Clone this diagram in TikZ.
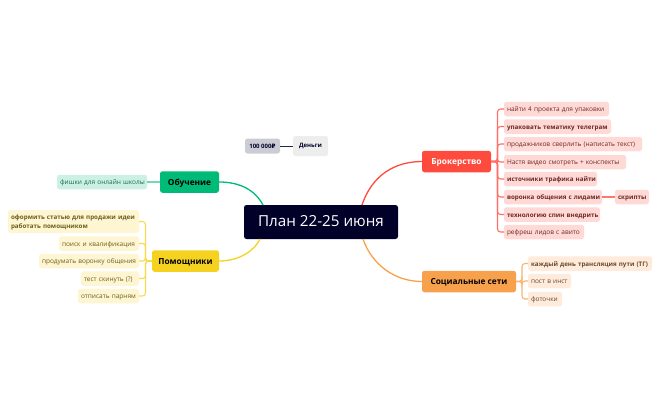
\documentclass[tikz,border=0pt]{standalone}
\usepackage{fontspec}
\setmainfont{Open Sans}
\newfontfamily\rubfont{DejaVu Sans}
\definecolor{navy}{HTML}{000028}
\definecolor{cred}{HTML}{FF4B3E}
\definecolor{cora}{HTML}{F8A14C}
\definecolor{cgre}{HTML}{00BA78}
\definecolor{cyel}{HTML}{F5D21F}
\definecolor{lred}{HTML}{FFD9D6}
\definecolor{lora}{HTML}{FEEBDB}
\definecolor{lgre}{HTML}{CCF1E4}
\definecolor{lyel}{HTML}{FEF5D2}
\definecolor{tred}{HTML}{6E2A26}
\definecolor{tora}{HTML}{6B4A2A}
\definecolor{tgre}{HTML}{1F6B50}
\definecolor{tyel}{HTML}{6E5F1C}
\newcommand{\tx}[1]{\mbox{#1}}
\tikzset{
 x=1pt,y=-1pt,
 base/.style={inner sep=0pt,outer sep=0pt,rounded corners=2.5pt,align=center,anchor=center},
 mainbox/.style={base,font=\fontsize{8.3}{10}\selectfont\bfseries,text height=7.2pt,text depth=1pt},
 leafbox/.style={base,inner xsep=3pt,align=left,font=\fontsize{6.5}{9}\selectfont,text height=6.2pt,text depth=1pt},
 wd/.style={minimum width=#1 pt,text width=#1 pt-6pt},
 bld/.style={font=\fontsize{6.25}{9}\selectfont\bfseries},
 lr/.style={leafbox,fill=lred,text=tred,minimum height=14.5},
 lo/.style={leafbox,fill=lora,text=tora,minimum height=14.5},
 lg/.style={leafbox,fill=lgre,text=tgre,minimum height=14.5},
 ly/.style={leafbox,fill=lyel,text=tyel,minimum height=14.5},
 conn/.style={line width=1.1pt,rounded corners=3pt},
 curve/.style={line width=1.3pt},
}
\begin{document}
\begin{tikzpicture}
\useasboundingbox (0,0) rectangle (660,408);
\coordinate (ttR) at (497.5,0);
\coordinate (ttO) at (522,0);
\coordinate (ttY) at (145.5,0);
% centre
\node[base,fill=navy,text=white,minimum width=154,minimum height=34,font=\fontsize{15.2}{17}\selectfont,text height=11pt,text depth=2pt] (center) at (321,222) {План 22-25 июня};
% main
\node[mainbox,fill=cred,text=white,minimum width=69,minimum height=21.5] (brok) at (456.5,161.5) {Брокерство};
\node[mainbox,fill=cora,text=black,minimum width=94,minimum height=21.5] (soc) at (469,281.5) {Социальные сети};
\node[mainbox,fill=cgre,text=black,minimum width=59,minimum height=21.5] (edu) at (189.5,182) {Обучение};
\node[mainbox,fill=cyel,text=black,minimum width=67,minimum height=21.5] (help) at (185.5,261) {Помощники};
% money
\node[base,fill=black!7!white,text=navy,font=\fontsize{6}{8}\selectfont\bfseries,minimum width=35,minimum height=20] (money) at (310.5,146) {Деньги};
\node[base,fill=navy!20!white,text=navy,font=\fontsize{6}{8}\selectfont\bfseries,minimum width=35,minimum height=15] (sum) at (262.5,146) {100 000{\rubfont\bfseries ₽}};
% red leaves
\node[lr,wd=105] (r1) at (556.5,109) {\tx{найти 4 проекта для упаковки}};
\node[lr,wd=107,bld] (r2) at (557.5,126.5) {\tx{упаковать тематику телеграм}};
\node[lr,wd=138] (r3) at (573,144) {\tx{продажников сверлить (написать текст)}};
\node[lr,wd=122] (r4) at (565,162) {\tx{Настя видео смотреть + конспекты}};
\node[lr,wd=93,bld] (r5) at (550.5,179) {\tx{источники трафика найти}};
\node[lr,wd=98,bld] (r6) at (553,197) {\tx{воронка общения с лидами}};
\node[lr,wd=34,bld] (r6a) at (632,197) {\tx{скрипты}};
\node[lr,wd=96,bld] (r7) at (552,214.5) {\tx{технологию спин внедрить}};
\node[lr,wd=80] (r8) at (544,232) {\tx{рефреш лидов с авито}};
% orange leaves
\node[lo,wd=124,bld] (o1) at (590,263.5) {\tx{каждый день трансляция пути (ТГ)}};
\node[lo,wd=43] (o2) at (549.5,281) {\tx{пост в инст}};
\node[lo,wd=34] (o3) at (545,299) {\tx{фоточки}};
% green leaf
\node[lg,wd=90] (g1) at (102,182) {\tx{фишки для онлайн школы}};
% yellow leaves
\node[ly,wd=131,bld,minimum height=23,text height=7pt,text depth=12pt] (y1) at (73.5,221.5) {\tx{оформить статью для продажи идеи}\\\tx{работать помощником}};
\node[ly,wd=80] (y2) at (99,243.5) {\tx{поиск и квалификация}};
\node[ly,wd=100] (y3) at (89,261) {\tx{продумать воронку общения}};
\node[ly,wd=58] (y4) at (110,278.5) {\tx{тест скинуть (?)}};
\node[ly,wd=61] (y5) at (108.5,296) {\tx{отписать парням}};
% connectors
\coordinate (cR) at (362,205);
\coordinate (cO) at (363,239);
\coordinate (cG) at (263,205);
\coordinate (cY) at (260,239);
\draw[curve,cred] (cR) .. controls (372,175) and (395,161.5) .. (brok.west);
\draw[curve,cora] (cO) .. controls (372,265) and (395,281.5) .. (soc.west);
\draw[curve,cgre] (cG) .. controls (255,190) and (240,182) .. (edu.east);
\draw[curve,cyel] (cY) .. controls (255,250) and (240,261) .. (help.east);
\draw[line width=1pt,navy!85!white] (sum.east) -- (money.west);
\draw[conn,cred!75!white] (r6.east) -- (r6a.west);
\draw[conn,cgre!55!white] (edu.west) -- (g1.east);
\foreach \n in {r1,r2,r3,r4,r5,r6,r7,r8}
  \draw[conn,cred!80!white] (brok.east) -- (ttR |- brok.east) -- (ttR |- \n.west) -- (\n.west);
\foreach \n in {o1,o2,o3}
  \draw[conn,cora!80!white] (soc.east) -- (ttO |- soc.east) -- (ttO |- \n.west) -- (\n.west);
\foreach \n in {y1,y2,y3,y4,y5}
  \draw[conn,cyel!80!white] (help.west) -- (ttY |- help.west) -- (ttY |- \n.east) -- (\n.east);
\end{tikzpicture}
\end{document}
